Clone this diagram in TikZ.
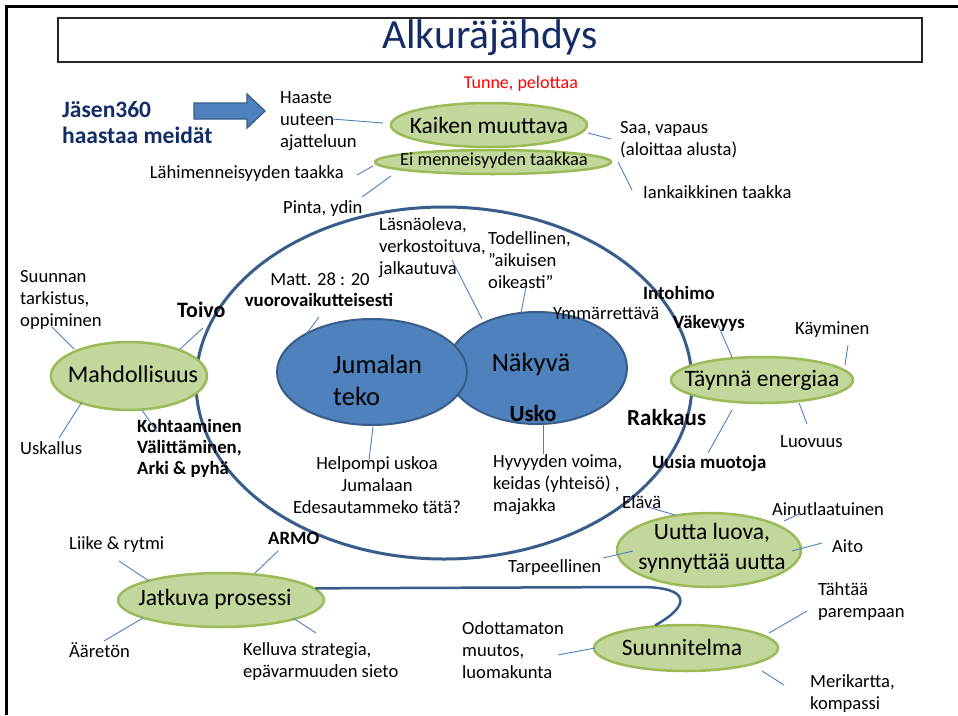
\documentclass[tikz,border=0pt]{standalone}
\usepackage{fontspec}
\setmainfont{Carlito}
\usetikzlibrary{shapes.geometric}
\definecolor{gfill}{HTML}{C3D69B}
\definecolor{gline}{HTML}{9BBB59}
\definecolor{bfill}{HTML}{4F81BD}
\definecolor{bline}{HTML}{385D8A}
\definecolor{navy}{HTML}{142C66}
\definecolor{conn}{HTML}{4F81BD}
\tikzset{
  lbl/.style={inner sep=0pt, font=\fontsize{18.6}{22}\selectfont, align=left, anchor=west},
  blbl/.style={inner sep=0pt, font=\bfseries\fontsize{18.8}{21}\selectfont, align=left, anchor=west},
  bigb/.style={inner sep=0pt, font=\bfseries\fontsize{23}{26}\selectfont, anchor=west},
  gell/.style={ellipse, draw=gline, fill=gfill, line width=2.5pt, inner sep=0pt},
  gtext/.style={inner sep=0pt, font=\fontsize{23.5}{30}\selectfont, align=center},
  bell/.style={ellipse, draw=bline, fill=bfill, line width=2pt, inner sep=0pt},
  cn/.style={draw=conn, line width=0.9pt},
}
\begin{document}
\begin{tikzpicture}[x=1pt,y=-1pt]
\useasboundingbox (0,0) rectangle (958,715);
\fill[white] (0,0) rectangle (958,715);
% frame
\draw[line width=3pt] (6,715) -- (6,6) -- (958,6);
% title
\node[draw=black!85, line width=1.3pt, minimum width=864, minimum height=44, inner sep=0pt] (title) at (490,40) {};
\node[inner sep=0pt, font=\fontsize{41.5}{45}\selectfont, text=navy] (titletext) at (490,38) {Alkuräjähdys};
% top group
\node[inner sep=0pt, font=\fontsize{18}{22}\selectfont, text=red] (tunne) at (521,84) {Tunne, pelottaa};
\node[inner sep=0pt, anchor=west, align=left, font=\bfseries\fontsize{23.5}{26}\selectfont, text=navy] (jasen) at (62,123) {Jäsen360\\haastaa meidät};
\draw[draw=bline, fill=bfill, line width=1.3pt] (194,103) -- (247,103) -- (247,94) -- (265,111) -- (247,128) -- (247,119) -- (194,119) -- cycle;
\node[gell, minimum width=196, minimum height=44] (kaiken) at (489,125) {};
\node[gtext] (kaikent) at (kaiken) {Kaiken muuttava};
\node[gell, minimum width=236, minimum height=24] (ei) at (493,162) {};
\node[gtext, font=\fontsize{18.4}{22}\selectfont] (eit) at (494,161) {Ei menneisyyden taakkaa};
\node[lbl] (haaste) at (280,121) {Haaste\\uuteen\\ajatteluun};
\node[lbl, anchor=east] (lahi) at (344,174) {Lähimenneisyyden taakka};
\node[lbl] (pinta) at (283,209) {Pinta, ydin};
\node[lbl] (saa) at (620,140) {Saa, vapaus\\(aloittaa alusta)};
\node[lbl] (iank) at (643,192) {Iankaikkinen taakka};
% big ellipse
\node[ellipse, draw=bline, line width=3pt, minimum width=496, minimum height=352, inner sep=0pt] (big) at (444,383) {};
\node[bell, minimum width=180, minimum height=112] (nakyva) at (537,368) {};
\node[bell, minimum width=190, minimum height=106] (jumalan) at (372,372) {};
\node[inner sep=0pt, anchor=west, align=left, font=\fontsize{26.5}{32}\selectfont] (jumtext) at (333,380) {Jumalan\\teko};
\node[inner sep=0pt, font=\fontsize{26.5}{32}\selectfont] (naktext) at (531,364) {Näkyvä};
\node[inner sep=0pt, font=\bfseries\fontsize{23}{26}\selectfont] (usko) at (533,414) {Usko};
\node[inner sep=0pt, font=\fontsize{18.6}{22}\selectfont] (matt) at (320,279) {Matt. 28 : 20};
\node[inner sep=0pt, font=\bfseries\fontsize{18.8}{22}\selectfont] (vuoro) at (319,300) {vuorovaikutteisesti};
\node[lbl] (lasna) at (379,248) {Läsnäoleva,\\verkostoituva,\\jalkautuva};
\node[lbl] (todel) at (488,260) {Todellinen,\\”aikuisen\\oikeasti”};
\node[lbl] (ymm) at (553,313) {Ymmärrettävä};
\node[lbl, align=center, anchor=center] (helpompi) at (377,485) {Helpompi uskoa\\Jumalaan\\Edesautammeko tätä?};
\node[lbl] (hyvyys) at (493,485) {Hyvyyden voima,\\keidas (yhteisö) ,\\majakka};
% right energy group
\node[blbl] (into) at (643,293) {Intohimo};
\node[blbl] (vake) at (673,323) {Väkevyys};
\node[gell, minimum width=182, minimum height=46] (taynna) at (762,380) {};
\node[gtext] (taynnat) at (taynna) {Täynnä energiaa};
\node[lbl] (kaym) at (795,330) {Käyminen};
\node[lbl] (luov) at (780,442) {Luovuus};
\node[bigb] (rakk) at (627,418) {Rakkaus};
\node[blbl] (uusia) at (652,463) {Uusia muotoja};
% left group
\node[gell, minimum width=156, minimum height=68] (mahd) at (129,376) {};
\node[gtext, font=\fontsize{24}{30}\selectfont] (mahdt) at (133,374) {Mahdollisuus};
\node[lbl] (suun) at (20,300) {Suunnan\\tarkistus,\\oppiminen};
\node[bigb, font=\bfseries\fontsize{22}{26}\selectfont] (toivo) at (177,310) {Toivo};
\node[lbl] (uskal) at (20,448) {Uskallus};
\node[blbl] (kohta) at (137,448) {Kohtaaminen\\Välittäminen,\\Arki \& pyhä};
% bottom left
\node[gell, minimum width=206, minimum height=54] (jatk) at (221,600) {};
\node[gtext] (jatkt) at (215,599) {Jatkuva prosessi};
\node[lbl] (liike) at (69,545) {Liike \& rytmi};
\node[blbl] (armo) at (268,538) {ARMO};
\node[lbl] (aaret) at (69,650) {Ääretön};
\node[lbl] (kell) at (243,662) {Kelluva strategia,\\epävarmuuden sieto};
% bottom right
\node[gell, minimum width=184, minimum height=74] (uutta) at (709,550) {};
\node[gtext] (uuttat) at (712,548) {Uutta luova,\\synnyttää uutta};
\node[lbl] (elava) at (622,502) {Elävä};
\node[lbl] (ainut) at (772,509) {Ainutlaatuinen};
\node[lbl] (aito) at (832,546) {Aito};
\node[lbl] (tarp) at (508,568) {Tarpeellinen};
\node[gell, minimum width=184, minimum height=46] (suunn) at (686,648) {};
\node[gtext] (suunnt) at (682,647) {Suunnitelma};
\node[lbl] (odott) at (462,650) {Odottamaton\\muutos,\\luomakunta};
\node[lbl] (tahtaa) at (818,602) {Tähtää\\parempaan};
\node[lbl] (meri) at (810,694) {Merikartta,\\kompassi};
% curved link
\draw[bline, line width=2.5pt, line cap=round] (jatk.7) -- (640,587) .. controls (692,587) and (690,606) .. (suunn.143);
% connector end points
\coordinate (a1) at (332,119); \coordinate (b1) at (383,123);
\coordinate (a2) at (357,175); \coordinate (b2) at (373,166);
\coordinate (a3) at (362,197); \coordinate (b3) at (391,176);
\coordinate (a4) at (611,139); \coordinate (b4) at (588,133);
\coordinate (a5) at (632,190); \coordinate (b5) at (618,162);
\coordinate (a6) at (319,317); \coordinate (b6) at (307,333);
\coordinate (a7) at (452,260); \coordinate (b7) at (482,319);
\coordinate (a8) at (526,287); \coordinate (b8) at (521,313);
\coordinate (a9) at (369,460); \coordinate (b9) at (373,427);
\coordinate (a10) at (543,454); \coordinate (b10) at (543,424);
\coordinate (a11) at (718,325); \coordinate (b11) at (732,357);
\coordinate (a12) at (848,345); \coordinate (b12) at (845,365);
\coordinate (a13) at (807,424); \coordinate (b13) at (799,403);
\coordinate (a14) at (708,453); \coordinate (b14) at (732,410);
\coordinate (a15) at (52,327); \coordinate (b15) at (74,349);
\coordinate (a16) at (203,328); \coordinate (b16) at (180,349);
\coordinate (a17) at (59,438); \coordinate (b17) at (82,402);
\coordinate (a18) at (157,432); \coordinate (b18) at (142,410);
\coordinate (a19) at (119,561); \coordinate (b19) at (149,581);
\coordinate (a20) at (278,551); \coordinate (b20) at (255,573);
\coordinate (a21) at (104,641); \coordinate (b21) at (143,618);
\coordinate (a22) at (316,633); \coordinate (b22) at (293,618);
\coordinate (a23) at (648,507); \coordinate (b23) at (675,515);
\coordinate (a24) at (801,513); \coordinate (b24) at (784,521);
\coordinate (a25) at (822,543); \coordinate (b25) at (792,551);
\coordinate (a26) at (603,558); \coordinate (b26) at (633,551);
\coordinate (a27) at (558,655); \coordinate (b27) at (595,648);
\coordinate (a28) at (807,611); \coordinate (b28) at (769,633);
\coordinate (a29) at (784,685); \coordinate (b29) at (762,671);
\foreach \i in {1,...,29} {\draw[cn] (a\i) -- (b\i);}
\end{tikzpicture}
\end{document}
